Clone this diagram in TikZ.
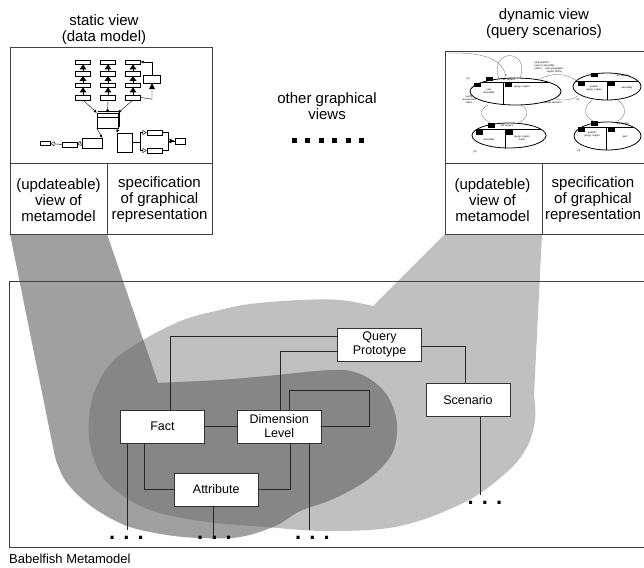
\documentclass[tikz,border=0pt]{standalone}
\usepackage{fontspec}
\setmainfont{Liberation Sans}
\usetikzlibrary{arrows.meta}
\definecolor{shadelight}{HTML}{C0C0C0}
\definecolor{shademid}{HTML}{A0A0A0}
\definecolor{shadedark}{HTML}{868686}
\newcommand{\modelblob}{(445,234) -- (542,234) -- (534,395) -- plot[smooth, tension=0.6] coordinates {(534,395) (535,420) (527,447) (507,472) (465,502) (400,526) (330,531) (265,527) (200,521) (150,510) (118,492) (100,473) (90,445) (89,418) (95,390) (112,362) (143,340) (183,320) (220,310) (250,304) (300,300) (340,300) (373,306)} -- cycle}
\newcommand{\staticfunnel}{(10,234) -- (107,234) -- (158,383) -- plot[smooth, tension=0.6] coordinates {(158,383) (220,380) (267,376) (333,370) (360,374) (382,389) (394,410) (397,433) (390,457) (367,480) (333,499) (300,511) (275,526) (240,537) (200,538) (167,535) (133,528) (110,518) (87,503) (67,483) (57,463) (53,447)} -- cycle}

\begin{document}
\begin{tikzpicture}[x=1pt,y=-1pt]
	\tikzset{frame/.style={draw=black!75, line width=0.8pt},
		concept/.style={draw=black!80, fill=white, line width=0.9pt, minimum width=84pt, minimum height=33pt, align=center, inner sep=1pt, font=\fontsize{12.5}{14}\selectfont},
		link/.style={draw=black!85, line width=0.7pt},
		viewtext/.style={align=center, inner sep=0pt, font=\fontsize{15}{16}\selectfont},
		more/.style={inner sep=0pt, outer ysep=6pt, font=\fontsize{22}{22}\selectfont\bfseries},
		mini/.style={draw, line width=0.4pt, fill=white, inner sep=0pt},
		minitext/.style={inner sep=0pt, align=center, font=\fontsize{2.6}{3}\selectfont},
		thinarrow/.style={line width=0.4pt, -{Latex[length=3pt,width=3pt]}},
		openarrow/.style={line width=0.4pt, -{Triangle[open,length=4pt,width=5pt]}},
		hop/.style={draw=black!60, line width=0.3pt}};
	\useasboundingbox (0,0) rectangle (644,567);
	% grey areas
	\fill[shadelight] \modelblob;
	\fill[shademid] \staticfunnel;
	\begin{scope}
		\clip \modelblob;
		\fill[shadedark] \staticfunnel;
	\end{scope}
	\draw[frame] (650,281) -| (9,547) -- (650,547);
	% view panels
	\draw[frame, fill=white] (10,47) rectangle (212,234);
	\draw[frame] (10,163) -- (212,163) (107,163) -- (107,234);
	\draw[frame, fill=white] (445,51) rectangle (650,234);
	\draw[frame] (445,163) -- (650,163) (542,163) -- (542,234);
	\node[viewtext] (statictitle) at (104,30) {static view\\(data model)};
	\node[viewtext] (dyntitle) at (544,24) {dynamic view\\(query scenarios)};
	\node[viewtext] (staticmeta) at (58.5,200) {(updateable)\\view of\\metamodel};
	\node[viewtext] (staticspec) at (159.5,200) {specification\\of graphical\\representation};
	\node[viewtext] (dynmeta) at (492.5,200) {(updateble)\\view of\\metamodel};
	\node[viewtext] (dynspec) at (593,200) {specification\\of graphical\\representation};
	\node[viewtext] (otherviews) at (327,106.5) {other graphical\\views};
	\foreach \i in {0,...,5}
		\fill (292+13.4*\i,137.5) rectangle ++(5,5);
	% static view thumbnail
	\foreach \cx [count=\c] in {83,108,133}{
		\foreach \ry [count=\r] in {62,73.5,85,97.5}
			\node[mini, minimum width=15pt, minimum height=4.5pt] (tab\c\r) at (\cx,\ry) {};
		\foreach \r [evaluate=\r as \n using int(\r+1)] in {1,2,3}{
			\draw[line width=0.4pt] (tab\c\r.south) -- (tab\c\n.north);
			\fill (tab\c\r.south) -- ++(-3.5,5) -- ++(7,0) -- cycle;
		}
	}
	\node[mini, minimum width=17pt, minimum height=8pt] (typemini) at (152,79) {};
	\draw[thinarrow] (typemini.north) |- (tab31.east);
	\draw[line width=0.4pt] (typemini.south) -- ++(0,16) -- (tab34.east);
	\fill (typemini.south) -- ++(-3,6) -- ++(6,0) -- cycle;
	\node[mini, minimum width=21pt, minimum height=15pt, line width=0.5pt] (factmini) at (107.5,120.5) {};
	\draw[line width=1pt] ([xshift=1.5pt,yshift=1.5pt]factmini.north west) -- ([xshift=1.5pt,yshift=1.5pt]factmini.north east) -- ([xshift=1.5pt,yshift=1.5pt]factmini.south east);
	\draw[line width=0.4pt] ([yshift=-4pt]factmini.north west) -- ([yshift=-4pt]factmini.north east);
	\foreach \c/\a in {1/north west,2/north,3/north east}
		\draw[thinarrow] (tab\c4.south) -- (factmini.\a);
	\node[mini, minimum width=20pt, minimum height=10pt] (propmini) at (92,143) {};
	\node[mini, minimum width=15pt, minimum height=5pt] (unitmini) at (69.5,144.5) {};
	\node[mini, minimum width=10pt, minimum height=4pt, line width=0.8pt] (hourmini) at (45,143.5) {};
	\node[mini, minimum width=15pt, minimum height=19pt] (measmini) at (124.5,142.5) {};
	\node[mini, minimum width=15pt, minimum height=5pt, line width=0.8pt] (upmini) at (154.5,132.5) {};
	\node[mini, minimum width=15pt, minimum height=5pt, line width=0.8pt] (downmini) at (154.5,150.5) {};
	\node[mini, minimum width=10pt, minimum height=6pt, line width=0.8pt] (endmini) at (180,141) {};
	\draw[thinarrow] (factmini.south west) -- (propmini.north east);
	\draw[thinarrow] (factmini.south east) -- (measmini.north west);
	\draw[openarrow] (propmini.west) -- (unitmini.east);
	\draw[openarrow] (unitmini.west) -- (hourmini.east);
	\draw[openarrow] (measmini.east) -- ++(8,0) |- (upmini.west);
	\draw[openarrow] (measmini.east) -- ++(8,0) |- (downmini.west);
	\draw[line width=0.4pt] (upmini.east) -- ++(6,0) |- (endmini.west);
	\draw[line width=0.4pt, -{Latex[length=5pt,width=5pt]}] (downmini.east) -- ++(6,0) |- (endmini.west);
	% dynamic view thumbnail
	\foreach \ex/\ey/\rx/\ry in {515.5/91.5/45.5/13.5, 607/86.5/34/13.5, 509/135.5/37/12.5, 607.5/136/33.5/14}
		\draw[line width=0.8pt] (\ex,\ey) ellipse [x radius=\rx, y radius=\ry];
	\draw[line width=0.6pt] (482.2,82.3) -- (548.8,82.3) (503,82.3) -- (503,104.5)
		(575.2,81.7) -- (638.8,81.7) (607.5,81.7) -- (607.5,100)
		(477.4,129) -- (540.6,129) (505,129) -- (505,147.9)
		(581.8,127) -- (633.2,127) (606.5,127) -- (606.5,150);
	\foreach \bx/\by in {486/77, 474/83, 505/83, 591/73, 578/82, 608/82, 488/123, 476/130, 506/130, 591/121, 578/127, 608/127}
		\fill (\bx,\by) rectangle ++(6.5,4.5);
	\node[minitext] (dcfone) at (509,79.8) {dcf repairs};
	\node[minitext] (yearone) at (489,92) {year\\assembly};
	\node[minitext] (regionone) at (522,87) {geogr. region};
	\node[minitext] (numone) at (468,79) {(1)};
	\node[minitext] (dcfthree) at (623,76) {dcf repairs};
	\node[minitext] (quarterthree) at (594,88.5) {quarter\\geogr. region};
	\node[minitext] (assemblythree) at (627,88) {assembly};
	\node[minitext] (numthree) at (578,99.5) {(3)};
	\node[minitext] (dcftwo) at (507,125.8) {dcf repairs};
	\node[minitext] (assemblytwo) at (489,140) {assembly};
	\node[minitext] (regiontwo) at (522,138) {geogr. region\\week};
	\node[minitext] (numtwo) at (475,152) {(2)};
	\node[minitext] (dcffour) at (623,123.5) {dcf repairs};
	\node[minitext] (quarterfour) at (592,134.5) {quarter\\geogr. region};
	\node[minitext] (partfour) at (625,137) {part};
	\node[minitext] (numfour) at (579,150.5) {(4)};
	\draw[hop] (538,80) .. controls (552,72) and (566,73) .. (577,81);
	\draw[hop] (556,99) .. controls (563,101) and (572,100) .. (578,96);
	\node[minitext] (pickregion) at (554.5,70) {pick geographic\\region (30\%)};
	\node[minitext] (revise) at (553,102.5) {revise decision};
	\draw[hop] (499,79) .. controls (488,48) and (531,48) .. (520,78);
	\node[minitext, anchor=west, align=left] (pickyear) at (534.5,66) {pick another\\year or assembly\\(40\%)};
	\draw[hop, -{Latex[length=2pt,width=2pt]}] (448,53) .. controls (490,52) and (502,62) .. (506,76.5);
	\draw[hop] (488,105) .. controls (478,110) and (480,118) .. (490,122.5);
	\draw[hop] (521,105) .. controls (530,110) and (528,118) .. (519,122.5);
	\node[minitext] (verify) at (469,99.5) {verify\\unexpected\\value};
	\draw[hop] (592,100) .. controls (582,108) and (584,117) .. (594,121.5);
	\draw[hop] (618,100) .. controls (628,108) and (626,117) .. (617,121.5);
	% metamodel
	\node[concept] (fact) at (162.5,426.5) {Fact};
	\node[concept] (dimlevel) at (279.2,426.5) {Dimension\\Level};
	\node[concept] (attribute) at (216.2,489.5) {Attribute};
	\node[concept] (query) at (379.5,344.7) {Query\\Prototype};
	\node[concept] (scenario) at (468,400) {Scenario};
	\node[more] (factmore) at (126.5,538) {. . .};
	\node[more] (attmore) at (214.5,538) {. . .};
	\node[more] (levelmore) at (312.5,538) {. . .};
	\node[more] (scenmore) at (485,503) {. . .};
	\draw[link] ([xshift=7.5pt]fact.north) |- ([yshift=8pt]query.west);
	\draw[link] ([xshift=1.5pt]dimlevel.north) |- ([yshift=-7pt]query.west);
	\draw[link] ([yshift=-1.5pt]query.east) -| ([xshift=-2.7pt]scenario.north);
	\draw[link] (fact) -- (dimlevel);
	\draw[link] ([xshift=10pt]dimlevel.north) |- ++(80,-19.5) |- (dimlevel.east);
	\draw[link] ([xshift=-18pt]fact.south) |- (attribute.west);
	\draw[link] (attribute.east) -| ([xshift=11.5pt]dimlevel.south);
	\draw[link] ([xshift=-35pt]fact.south) -- ([xshift=-35pt]fact.south |- factmore.north);
	\draw[link] ([xshift=-3pt]attribute.south) -- ([xshift=-3pt]attribute.south |- attmore.center);
	\draw[link] ([xshift=30pt]dimlevel.south) -- ([xshift=30pt]dimlevel.south |- levelmore.north);
	\draw[link] ([xshift=12.7pt]scenario.south) -- ([xshift=12.7pt]scenario.south |- scenmore.north);
	\node[anchor=west, inner sep=0pt, font=\fontsize{13}{15}\selectfont] (metalabel) at (9,559) {Babelfish Metamodel};
\end{tikzpicture}
\end{document}
